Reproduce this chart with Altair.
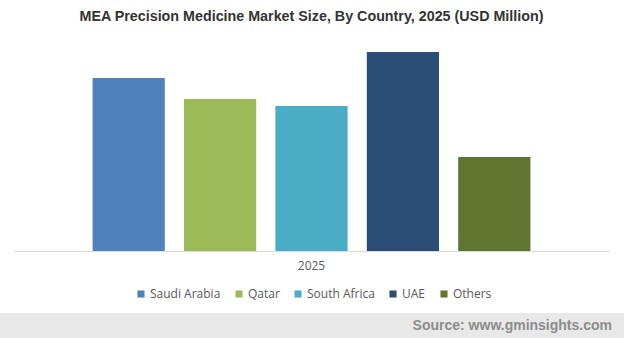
import altair as alt
import pandas as pd

countries = ["Saudi Arabia", "Qatar", "South Africa", "UAE", "Others"]
values = [86.9, 76.4, 72.9, 100.0, 47.2]
years = ["2025"] * 5
colors = ["#4F81BD", "#9BBB59", "#4BACC6", "#2C4D75", "#5F7530"]

df = pd.DataFrame({"year": years, "country": countries, "value": values})

bars = alt.Chart(df).mark_bar().encode(
    x=alt.X("year:N", title=None,
            scale=alt.Scale(paddingInner=0, paddingOuter=0),
            axis=alt.Axis(labelAngle=0, ticks=False, domainColor="#d9d9d9",
                          labelColor="#595959", labelFontSize=12,
                          labelFont="Open Sans", labelPadding=9)),
    xOffset=alt.XOffset("country:N", sort=countries,
                        scale=alt.Scale(paddingInner=0.21, paddingOuter=0.86)),
    y=alt.Y("value:Q", scale=alt.Scale(domain=[0, 106]), axis=None),
    color=alt.Color("country:N", sort=countries,
                    scale=alt.Scale(domain=countries, range=colors),
                    legend=alt.Legend(title=None, orient="none", direction="horizontal",
                                      legendX=121, legendY=248,
                                      symbolType="square", symbolSize=50,
                                      symbolStrokeWidth=0, labelFontSize=12,
                                      labelFont="Open Sans", labelColor="#595959",
                                      labelOffset=3, columnPadding=12)),
)

footer = alt.Chart(df).mark_rect(color="#e8e8e8", clip=False).encode(
    x=alt.value(-14), x2=alt.value(610), y=alt.value(273), y2=alt.value(300)
)

source = alt.Chart(pd.DataFrame({"t": ["Source: www.gminsights.com"]})).mark_text(
    align="right", baseline="middle", font="Liberation Sans", fontSize=14,
    fontWeight="bold", color="#8c8c8c", clip=False
).encode(x=alt.value(598), y=alt.value(286), text="t:N")

chart = alt.layer(footer, bars, source).properties(
    width=595, height=211, background="white",
    title=alt.TitleParams("MEA Precision Medicine Market Size, By Country, 2025 (USD Million)",
                          font="Liberation Sans", fontSize=14.3, fontWeight="bold",
                          color="#333333", anchor="middle", offset=16),
    autosize=alt.AutoSizeParams(type="none"),
    padding={"left": 14, "top": 40, "right": 15, "bottom": 87},
).configure_view(strokeWidth=0, stroke="transparent")

chart.save("out.html", embed_options={"renderer": "svg", "actions": False})
